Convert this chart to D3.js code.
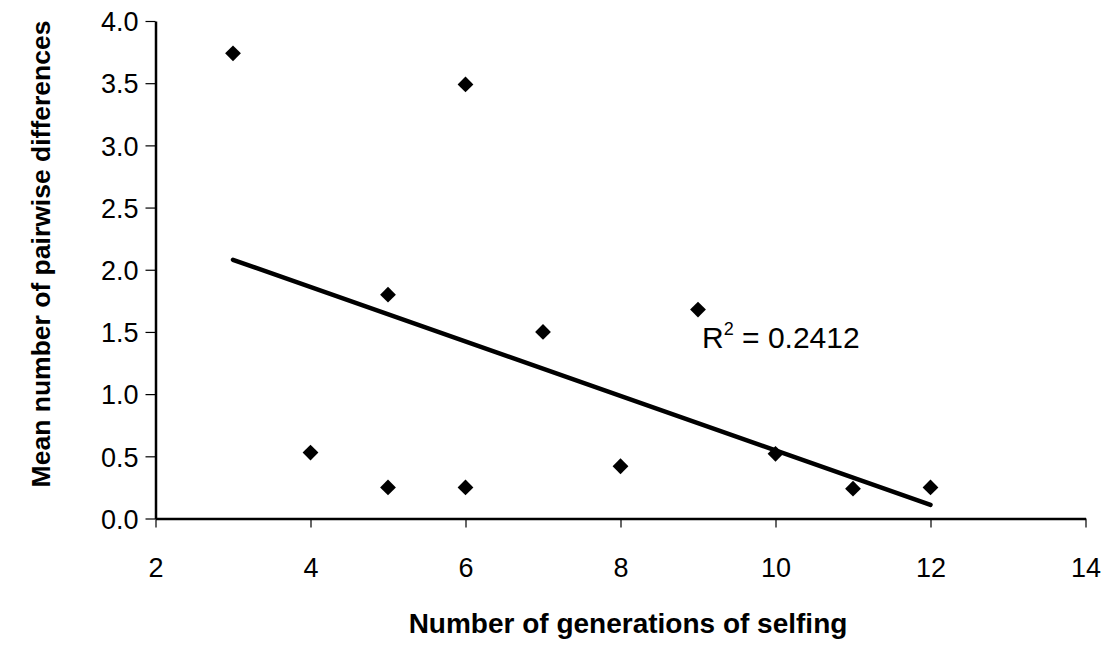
<!DOCTYPE html>
<html>
<head>
<meta charset="utf-8">
<script src="https://cdn.jsdelivr.net/npm/d3@7"></script>
<style>
  html, body { margin: 0; padding: 0; background: #fff; }
  svg { display: block; }
  text { font-family: "Liberation Sans", Arial, sans-serif; fill: #000; }
</style>
</head>
<body>
<svg id="chart" width="1115" height="647"></svg>
<script>
// Generations of selfing per line and the mean pairwise differences observed
const generations = [3, 4, 5, 5, 6, 6, 7, 8, 9, 10, 11, 12];
const pairwiseDiff = [3.74, 0.53, 1.80, 0.25, 3.49, 0.25, 1.50, 0.42, 1.68, 0.52, 0.24, 0.25];
// Linear trend line end points (generation, value)
const trendGen = [3, 12];
const trendVal = [2.08, 0.11];
const xTicks = [2, 4, 6, 8, 10, 12, 14];
const yTicks = [0, 0.5, 1, 1.5, 2, 2.5, 3, 3.5, 4];
const rSquaredLabel = "0.2412";

const svg = d3.select("#chart");
const plotLeft = 155.5, plotRight = 1085.5, plotTop = 21, plotBottom = 518.5;
const font = "'Liberation Sans', Arial, sans-serif";

const x = d3.scaleLinear().domain([2, 14]).range([plotLeft, plotRight]);
const y = d3.scaleLinear().domain([0, 4]).range([plotBottom, plotTop]);

// Y axis
const yAxis = svg.append("g")
  .attr("transform", `translate(${plotLeft},0)`)
  .call(d3.axisLeft(y).tickValues(yTicks).tickFormat(d3.format(".1f")).tickSize(10).tickSizeOuter(0));
yAxis.select(".domain").attr("stroke-width", 2.5);
yAxis.selectAll(".tick line").attr("stroke-width", 1.2);
yAxis.selectAll(".tick text")
  .attr("x", -17).attr("dy", "0.36em")
  .style("font-size", "27px").style("font-family", font);

// X axis
const xAxis = svg.append("g")
  .attr("transform", `translate(0,${plotBottom})`)
  .call(d3.axisBottom(x).tickValues(xTicks).tickFormat(d3.format("d")).tickSize(9).tickSizeOuter(0));
xAxis.select(".domain").attr("stroke-width", 2.5);
xAxis.selectAll(".tick line").attr("stroke-width", 1.2);
xAxis.selectAll(".tick text")
  .attr("y", 58.5).attr("dy", 0)
  .style("font-size", "27px").style("font-family", font);

// Linear trend line
svg.append("path")
  .datum(trendGen.map((g, i) => [g, trendVal[i]]))
  .attr("d", d3.line().x(d => x(d[0])).y(d => y(d[1])))
  .attr("stroke", "#000").attr("stroke-width", 4.5)
  .attr("stroke-linecap", "round").attr("fill", "none");

// Diamond markers
const diamond = d3.symbol().type(d3.symbolSquare).size(125);
svg.append("g").selectAll("path")
  .data(generations.map((g, i) => [g, pairwiseDiff[i]]))
  .join("path")
  .attr("d", diamond)
  .attr("transform", d => `translate(${x(d[0])},${y(d[1])}) rotate(45)`)
  .attr("fill", "#000");

// R-squared annotation
const r2 = svg.append("text").attr("x", 702).attr("y", 348).style("font-size", "30px");
r2.append("tspan").text("R");
r2.append("tspan").style("font-size", "18px").attr("dy", -13).text("2");
r2.append("tspan").attr("dy", 13).text(" = " + rSquaredLabel);

// Axis titles
svg.append("text")
  .attr("x", 628).attr("y", 633)
  .attr("text-anchor", "middle").style("font-size", "28px").attr("font-weight", "bold")
  .text("Number of generations of selfing");

svg.append("text")
  .attr("transform", "translate(50,254) rotate(-90)")
  .attr("text-anchor", "middle").style("font-size", "26.5px").attr("font-weight", "bold")
  .text("Mean number of pairwise differences");
</script>
</body>
</html>
